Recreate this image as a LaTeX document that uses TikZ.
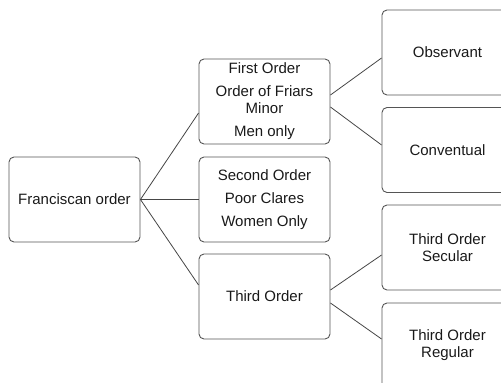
\documentclass[tikz,border=0pt]{standalone}
\usepackage{fontspec}
\setmainfont{Liberation Sans}
\usepackage{tikz}
\usetikzlibrary{positioning}
\usepackage{xcolor}
\definecolor{frgray}{RGB}{85,85,85}
\definecolor{frline}{RGB}{70,70,70}
\definecolor{frtext}{RGB}{25,25,25}
\tikzstyle{orderbox} = [rectangle, rounded corners=5pt, minimum width=131pt, minimum height=85pt, text centered, align=center, draw=frgray, line width=0.9pt, text=frtext, font=\fontsize{15}{17}\selectfont]
\tikzstyle{link} = [line width=0.8pt, color=frline]

\begin{document}
\begin{tikzpicture}[x=1pt,y=1pt]
\useasboundingbox (0,0) rectangle (501,-383);
\node[orderbox] (fran) at (74.5,-199.5) {Franciscan order};
\node[orderbox] (first) at (264.5,-101.5) {First Order\\[6pt]Order of Friars\\Minor\\[6pt]Men only};
\node[orderbox] (second) at (264.5,-199.5) {Second Order\\[6pt]Poor Clares\\[6pt]Women Only};
\node[orderbox] (third) at (264.5,-296.5) {Third Order};
\node[orderbox] (obs) at (447.5,-52.5) {Observant};
\node[orderbox] (conv) at (447.5,-150) {Conventual};
\node[orderbox] (secular) at (447.5,-247.5) {Third Order\\Secular};
\node[orderbox] (regular) at (447.5,-345.5) {Third Order\\Regular};

\draw[link] (fran.east) -- ([yshift=-11.5pt]first.west);
\draw[link] (fran.east) -- (second.west);
\draw[link] (fran.east) -- ([yshift=11.5pt]third.west);
\draw[link] ([yshift=6.5pt]first.east) -- ([yshift=-5.5pt]obs.west);
\draw[link] ([yshift=-5.5pt]first.east) -- ([yshift=5pt]conv.west);
\draw[link] ([yshift=6.5pt]third.east) -- ([yshift=-7.5pt]secular.west);
\draw[link] ([yshift=-6.5pt]third.east) -- ([yshift=6.5pt]regular.west);
\end{tikzpicture}
\end{document}
